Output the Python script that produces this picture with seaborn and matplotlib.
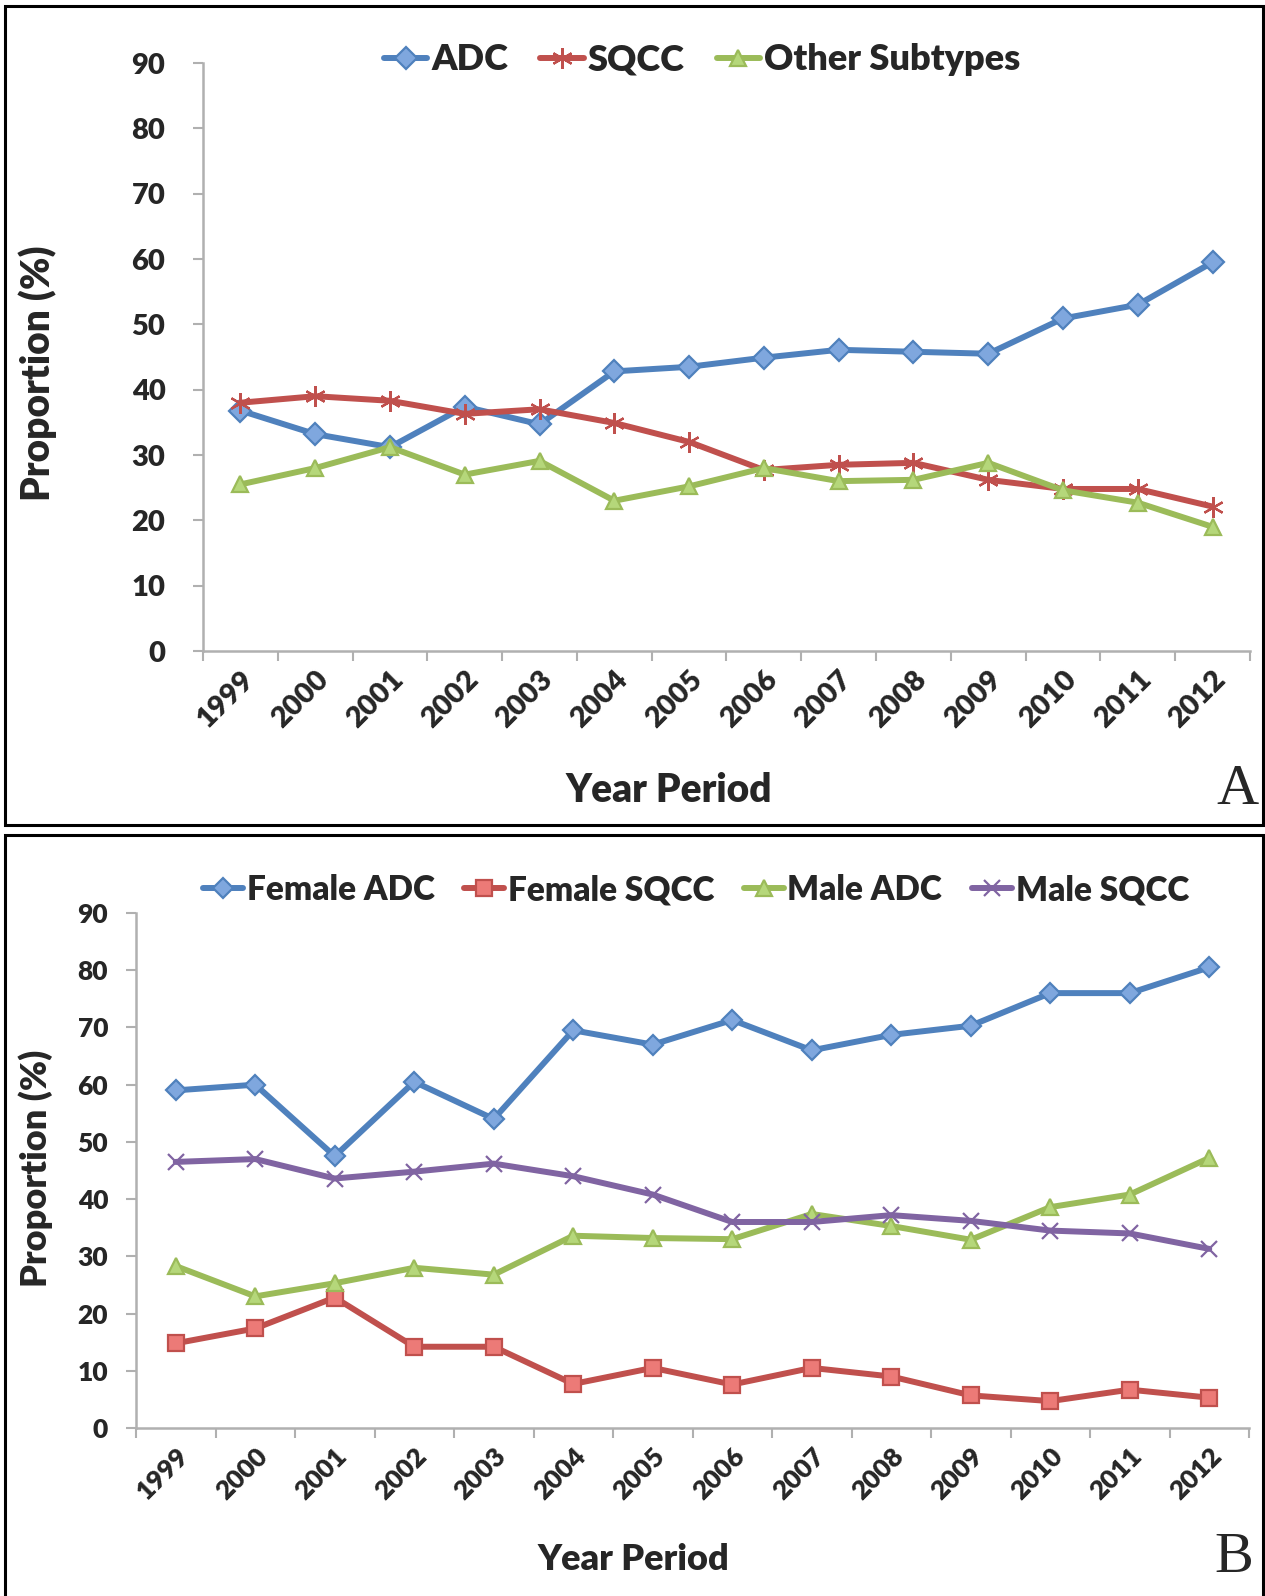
import matplotlib
matplotlib.use("Agg")
import matplotlib.pyplot as plt
import seaborn as sns
import pandas as pd
from matplotlib.patches import Rectangle

# ---- data ----
years = [str(y) for y in range(1999, 2013)]

adc = [36.8, 33.2, 31.2, 37.4, 34.7, 42.8, 43.5, 44.9, 46.1, 45.8, 45.5, 50.9, 53.0, 59.5]
sqcc = [38.0, 39.0, 38.3, 36.3, 37.0, 34.9, 32.0, 27.7, 28.5, 28.8, 26.2, 24.8, 24.8, 22.1]
other = [25.5, 28.0, 31.2, 27.0, 29.1, 23.0, 25.2, 28.0, 26.0, 26.2, 28.8, 24.6, 22.7, 19.0]

female_adc = [59.0, 60.0, 47.5, 60.5, 54.0, 69.5, 67.0, 71.3, 66.0, 68.7, 70.3, 76.0, 76.0, 80.5]
female_sqcc = [14.8, 17.4, 22.8, 14.2, 14.2, 7.7, 10.5, 7.6, 10.5, 9.0, 5.7, 4.7, 6.7, 5.3]
male_adc = [28.3, 23.0, 25.3, 28.0, 26.8, 33.6, 33.2, 33.0, 37.4, 35.3, 32.9, 38.6, 40.8, 47.2]
male_sqcc = [46.5, 47.0, 43.6, 44.8, 46.2, 44.0, 40.8, 36.0, 36.0, 37.2, 36.2, 34.5, 34.0, 31.3]

y_ticks = [0, 10, 20, 30, 40, 50, 60, 70, 80, 90]

BLUE, RED, GREEN, PURPLE = "#4F81BD", "#C0504D", "#9BBB59", "#8064A2"

panel_a = [
    ("ADC", adc, BLUE, "D", "#7FA7DE", 11),
    ("SQCC", sqcc, RED, (6, 2, 0), RED, 15),
    ("Other Subtypes", other, GREEN, "^", "#B5D77A", 12),
]
panel_b = [
    ("Female ADC", female_adc, BLUE, "D", "#7FA7DE", 10),
    ("Female SQCC", female_sqcc, RED, "s", "#EC7A77", 11),
    ("Male ADC", male_adc, GREEN, "^", "#B5D77A", 11),
    ("Male SQCC", male_sqcc, PURPLE, "x", PURPLE, 11),
]

sns.set_style("white")
plt.rcParams["font.family"] = ["Lato", "DejaVu Sans"]
plt.rcParams["font.weight"] = "bold"

W, H = 1265, 1596
fig = plt.figure(figsize=(W / 100, H / 100), dpi=100)


def fx(px):
    return px / W


def fy(py):
    return 1 - py / H


def draw_panel(rect, series, tick_fs, label_fs, legend_fs, ypad, legend_xy,
               ylab_xy, xlab_xy, letter, letter_xy):
    left, top, right, bottom = rect
    ax = fig.add_axes([fx(left), fy(bottom), fx(right - left), (bottom - top) / H])
    pos = list(range(len(years)))
    for name, vals, col, mk, fill, ms in series:
        df = pd.DataFrame({"pos": pos, "val": vals})
        sns.lineplot(data=df, x="pos", y="val", ax=ax, color=col, lw=4.3,
                     marker=mk, markersize=ms, markerfacecolor=fill,
                     markeredgecolor=col, markeredgewidth=1.6, label=name)
    ax.set_xlim(-0.5, len(years) - 0.5)
    ax.set_ylim(0, 90)
    ax.set_yticks(y_ticks)
    ax.set_yticklabels([str(t) for t in y_ticks], fontsize=tick_fs, fontweight="heavy")
    ax.set_xticks(pos)
    ax.set_xticklabels(years, rotation=45, ha="right", rotation_mode="anchor",
                       fontsize=tick_fs, fontweight="heavy")
    ax.set_xticks([p - 0.5 for p in range(len(years) + 1)], minor=True)
    ax.tick_params(axis="x", which="major", length=0, pad=11)
    ax.tick_params(axis="x", which="minor", length=7, width=1.5, color="#B0B0B0",
                   direction="out", bottom=True)
    ax.tick_params(axis="y", length=7, width=1.5, color="#B0B0B0", direction="out",
                   left=True, pad=ypad)
    for s in ["top", "right"]:
        ax.spines[s].set_visible(False)
    for s in ["left", "bottom"]:
        ax.spines[s].set_color("#B0B0B0")
        ax.spines[s].set_linewidth(1.8)
    ax.set_xlabel("")
    ax.set_ylabel("")
    ax.legend(loc="center", bbox_to_anchor=(fx(legend_xy[0]), fy(legend_xy[1])),
              bbox_transform=fig.transFigure, ncol=len(series), frameon=False,
              handlelength=1.2, handletextpad=0.1, columnspacing=0.9,
              prop={"weight": "heavy", "size": legend_fs})
    fig.text(fx(ylab_xy[0]), fy(ylab_xy[1]), "Proportion (%)", rotation=90,
             ha="center", va="center", fontsize=label_fs, fontweight="heavy")
    fig.text(fx(xlab_xy[0]), fy(xlab_xy[1]), "Year Period",
             ha="center", va="center", fontsize=label_fs, fontweight="heavy")
    fig.text(fx(letter_xy[0]), fy(letter_xy[1]), letter, ha="center", va="center",
             fontsize=42, family="Liberation Serif", fontweight="normal")
    return ax


draw_panel((203, 63, 1250, 651), panel_a, 21, 28, 26, 20,
           (702, 60), (38, 373), (669, 790), "A", (1237, 790))
draw_panel((136, 913, 1249, 1428), panel_b, 19, 26, 24, 13,
           (696, 890), (36, 1168), (633, 1560), "B", (1234, 1558))

# panel frames
fig.patches.append(Rectangle((fx(5), fy(825)), fx(1258), 819 / H, fill=False,
                             ec="black", lw=2.2, transform=fig.transFigure, figure=fig))
fig.patches.append(Rectangle((fx(5), fy(1600)), fx(1258), 765 / H, fill=False,
                             ec="black", lw=2.2, transform=fig.transFigure, figure=fig))

fig.savefig("out.png", dpi=100)
